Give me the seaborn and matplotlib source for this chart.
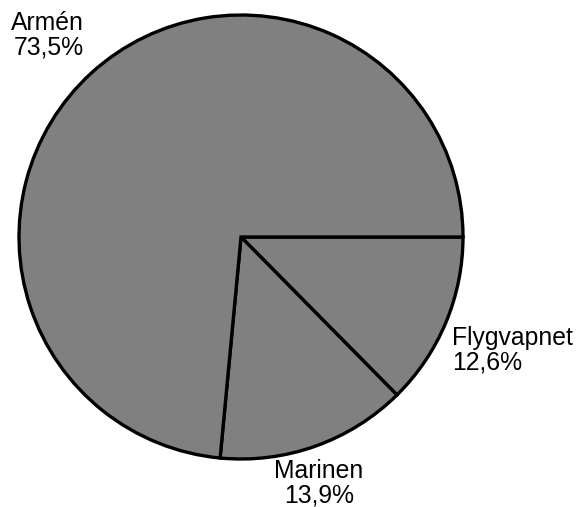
import matplotlib
matplotlib.use('Agg')
import matplotlib.pyplot as plt
import seaborn as sns

# andel per försvarsgren
branches = ['Flygvapnet', 'Marinen', 'Armén']
shares = [12.6, 13.9, 73.5]

# label placement (data coords) and alignment
label_pos = [(0.95, -0.51), (0.35, -1.11), (-0.71, 0.91)]
label_ha = ['left', 'center', 'right']

sns.set_theme(style='white')
plt.rcParams['font.family'] = ['Liberation Sans', 'DejaVu Sans']

fig = plt.figure(figsize=(5.79, 5.07), dpi=100)
ax = fig.add_axes([19 / 579, 48 / 507, 444 / 579, 444 / 507])

ax.pie(shares, startangle=0, counterclock=False, radius=1,
       colors=['#808080'] * len(shares),
       wedgeprops={'edgecolor': 'black', 'linewidth': 2.4})

for name, val, (x, y), ha in zip(branches, shares, label_pos, label_ha):
    txt = f"{name}\n{val:.1f}%".replace('.', ',')
    ax.text(x, y, txt, ha=ha, va='center', fontsize=17.8, color='black',
            multialignment=ha, linespacing=1.05)

ax.set_xlim(-1, 1)
ax.set_ylim(-1, 1)
ax.set_aspect('equal')
ax.axis('off')

fig.savefig('out.png', dpi=100)
